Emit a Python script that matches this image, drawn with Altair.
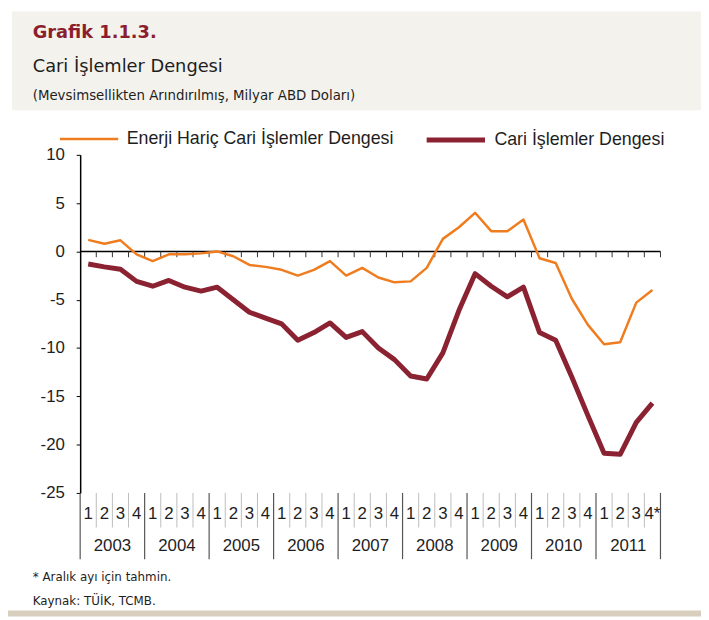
import altair as alt
import pandas as pd

# ---------------- data ----------------
years = ["2003", "2004", "2005", "2006", "2007", "2008", "2009", "2010", "2011"]
quarter_labels = ["1", "2", "3", "4"] * 8 + ["1", "2", "3", "4*"]

series_names = ["Enerji Hariç Cari İşlemler Dengesi", "Cari İşlemler Dengesi"]

enerji_haric = [1.2, 0.8, 1.15, -0.3, -1.0, -0.3, -0.3, -0.2, 0.0, -0.5,
                -1.4, -1.6, -1.9, -2.5, -1.9, -1.0, -2.5, -1.7, -2.7, -3.2,
                -3.1, -1.7, 1.3, 2.5, 4.0, 2.1, 2.1, 3.3, -0.7, -1.2,
                -4.9, -7.6, -9.6, -9.4, -5.3, -4.0]

cari = [-1.3, -1.6, -1.85, -3.1, -3.6, -3.0, -3.7, -4.1, -3.7, -5.0,
        -6.3, -6.9, -7.5, -9.2, -8.4, -7.4, -8.9, -8.3, -10.0, -11.2,
        -12.9, -13.2, -10.5, -6.1, -2.3, -3.6, -4.7, -3.7, -8.4, -9.2,
        -13.0, -17.0, -20.9, -21.0, -17.7, -15.7]

y_ticks = [10, 5, 0, -5, -10, -15, -20, -25]

colors = ["#EF7D1F", "#8B2232"]
line_widths = [2.5, 5]

# ---------------- layout ----------------
W, H = 587, 342
PAD_L, PAD_T = 73, 145
TEXT = "#1e1e1e"
HEAD_FONT = "DejaVu Sans"
AX_FONT = "Liberation Sans"

n = len(quarter_labels)
pos = [i + 0.5 for i in range(n)]

xs = alt.Scale(domain=[0, n], nice=False, zero=False)
ys = alt.Scale(domain=[-25, 10], nice=False, zero=False)

y_axis = alt.Axis(values=y_ticks, grid=False, title=None,
                  labelExpr="datum.value + ''",
                  domainColor="black", domainWidth=1.5,
                  tickColor="black", tickSize=4,
                  labelFont=AX_FONT, labelFontSize=17,
                  labelColor=TEXT, labelPadding=12)


def series_line(name, values, color, width, legend_x):
    d = pd.DataFrame({"pos": pos, "value": values, "series": [name] * n})
    return alt.Chart(d).mark_line(strokeJoin="round", strokeWidth=width).encode(
        x=alt.X("pos:Q", scale=xs, axis=None),
        y=alt.Y("value:Q", scale=ys, axis=y_axis),
        color=alt.Color("series:N",
                        scale=alt.Scale(domain=[name], range=[color]),
                        legend=alt.Legend(
                            orient="none", legendX=legend_x, legendY=-47,
                            direction="horizontal", title=None,
                            symbolType="stroke", symbolSize=3481,
                            symbolStrokeWidth=width,
                            labelFont=AX_FONT, labelFontSize=18,
                            labelLimit=400,
                            labelColor=TEXT, labelOffset=7)),
    )


line_a = series_line(series_names[0], enerji_haric, colors[0], line_widths[0], -22)
line_b = series_line(series_names[1], cari, colors[1], line_widths[1], 348)

zero_line = alt.Chart(pd.DataFrame({"v": [0]})).mark_rule(
    color="black", strokeWidth=1.5).encode(
    y=alt.Y("v:Q", scale=ys, axis=y_axis), x=alt.value(0), x2=alt.value(W))

bounds = list(range(0, n + 1))
bdf = pd.DataFrame({"b": bounds, "v": [0] * len(bounds), "v2": [-0.6] * len(bounds)})
inner = bdf[bdf.b % 4 != 0]
yearb = bdf[bdf.b % 4 == 0]

zero_ticks = alt.Chart(bdf[bdf.b > 0]).mark_rule(color="#333333", strokeWidth=1).encode(
    x=alt.X("b:Q", scale=xs, axis=None),
    y=alt.Y("v:Q", scale=ys, axis=y_axis),
    y2="v2:Q",
)

q_sep = alt.Chart(inner).mark_rule(color="#bdbdbd", strokeWidth=1).encode(
    x=alt.X("b:Q", scale=xs, axis=None), y=alt.value(H), y2=alt.value(H + 35))

y_sep = alt.Chart(yearb).mark_rule(color="#555555", strokeWidth=1.2).encode(
    x=alt.X("b:Q", scale=xs, axis=None), y=alt.value(H), y2=alt.value(H + 67))

qdf = pd.DataFrame({"pos": pos, "lab": quarter_labels})
q_text = alt.Chart(qdf).mark_text(font=AX_FONT, fontSize=17, color=TEXT,
                                  baseline="middle").encode(
    x=alt.X("pos:Q", scale=xs, axis=None), y=alt.value(H + 21), text="lab:N")

ydf = pd.DataFrame({"pos": [4 * k + 2 for k in range(len(years))], "lab": years})
y_text = alt.Chart(ydf).mark_text(font=AX_FONT, fontSize=17, color=TEXT,
                                  baseline="middle").encode(
    x=alt.X("pos:Q", scale=xs, axis=None), y=alt.value(H + 54), text="lab:N")

one = pd.DataFrame({"a": [0]})

header_bg = alt.Chart(one).mark_rect(color="#F4F2EC").encode(
    x=alt.value(-69), x2=alt.value(W + 41), y=alt.value(-145), y2=alt.value(-45))

bottom_band = alt.Chart(one).mark_rect(color="#D8CFBE").encode(
    x=alt.value(-73), x2=alt.value(W + 41), y=alt.value(461), y2=alt.value(467))


def txt(s, y, size, color=TEXT, weight="normal", font=HEAD_FONT):
    return alt.Chart(pd.DataFrame({"t": [s]})).mark_text(
        font=font, fontSize=size, fontWeight=weight, color=color,
        align="left", baseline="middle").encode(
        x=alt.value(-48), y=alt.value(y), text="t:N")


title1 = txt("Grafik 1.1.3.", -123, 18, color="#8B1E2E", weight="bold")
title2 = txt("Cari İşlemler Dengesi", -89, 18)
title3 = txt("(Mevsimsellikten Arındırılmış, Milyar ABD Doları)", -59, 13.5)
foot1 = txt("* Aralık ayı için tahmin.", 427, 12)
foot2 = txt("Kaynak: TÜİK, TCMB.", 451, 12)

chart = alt.layer(
    header_bg, bottom_band, title1, title2, title3,
    q_sep, y_sep, q_text, y_text, zero_line, zero_ticks, line_a, line_b,
    foot1, foot2,
).resolve_scale(color="independent").properties(
    width=W, height=H,
    autosize=alt.AutoSizeParams(type="none"),
    padding={"left": PAD_L, "top": PAD_T, "right": 41, "bottom": 125},
    background="white",
).configure_view(stroke=None)

chart.save("out.html", embed_options={"renderer": "svg", "actions": False})
